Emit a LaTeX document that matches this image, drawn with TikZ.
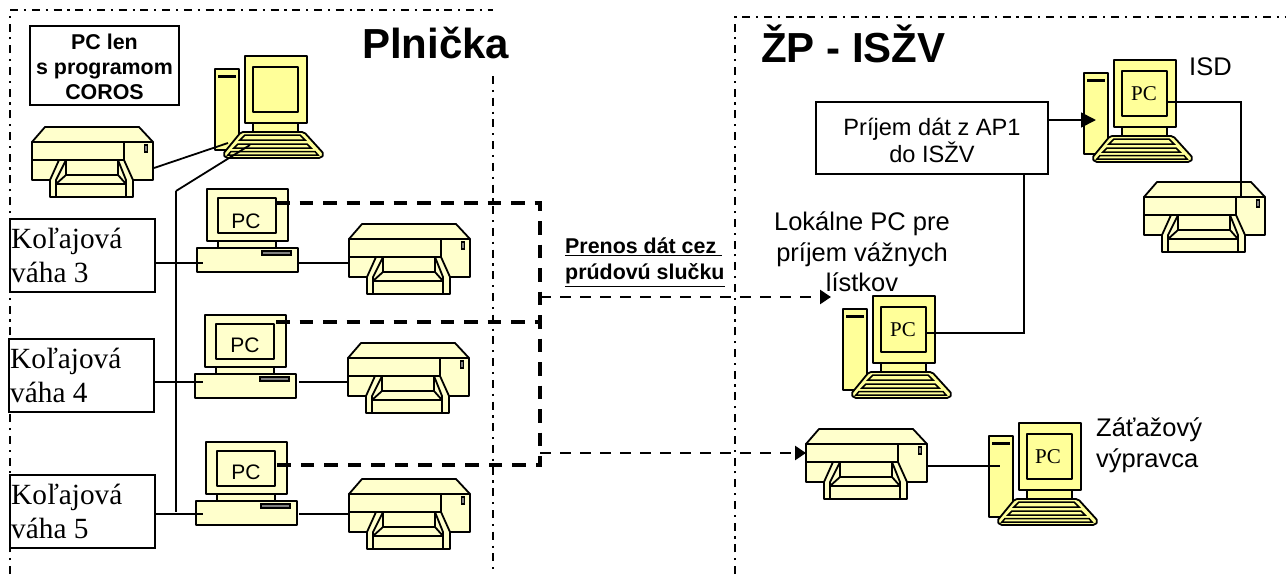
\documentclass[tikz,border=0pt]{standalone}
\usepackage{fontspec}
\setmainfont{Liberation Sans}
\newfontfamily\timesfont{Liberation Serif}
\usetikzlibrary{arrows.meta}
\definecolor{towerfill}{HTML}{FFFF99}
\definecolor{paperfill}{HTML}{FFFFCC}
\tikzset{
  part/.style={draw=black, line width=1.8pt, line join=round},
  wire/.style={draw=black, line width=1.8pt},
  frameline/.style={draw=black, line width=1.9pt, dash pattern=on 8pt off 5.8pt on 2.2pt off 5.7pt},
  dataline/.style={draw=black, line width=3.2pt, dash pattern=on 13.5pt off 10pt},
  datatip/.style={-{Triangle[length=11pt,width=14pt]}},
  infobox/.style={draw=black, line width=2pt, fill=white, inner sep=0pt, outer sep=0pt},
  scalebox/.style={infobox, minimum width=145pt, minimum height=73pt, anchor=north west},
  scaletext/.style={font=\timesfont\fontsize{29.3}{34}\selectfont, align=left, anchor=north west, inner sep=0pt},
  pctext/.style={font=\fontsize{21}{26}\selectfont, inner sep=0pt},
  pcserif/.style={font=\timesfont\fontsize{21}{24}\selectfont, inner sep=0pt},
  label/.style={font=\fontsize{25.5}{30.5}\selectfont, align=center, inner sep=0pt},
  title/.style={font=\bfseries\fontsize{42}{48}\selectfont, anchor=base west, inner sep=0pt},
  pics/tower/.style={code={
    \draw[part, fill=towerfill] (-30,13) rectangle (-6,94);
    \draw[line width=3pt] (-27,20) -- (-9,20);
    \draw[part, fill=towerfill] (8,67) rectangle (53,76);
    \draw[part, fill=towerfill] (0,0) rectangle (62,67);
    \draw[part, fill=towerfill] (8,11) rectangle (53,56);
    \draw[part, fill=towerfill, rounded corners=2pt] (-4,76) -- (59,76) -- (79,98) -- (76,102) -- (-19,102) -- (-22,98) -- cycle;
    \draw[line width=1.5pt] (0,79) -- (55,79) -- (60,84) -- (-5,84) -- cycle;
    \draw[line width=1.5pt] (-7,88) -- (62,88) -- (66,92) -- (-11,92) -- cycle;
    \draw[line width=1.5pt] (-14,95.5) -- (70,95.5) -- (73,99) -- (-17,99) -- cycle;
  }},
  pics/printer/.style={code={
    \draw[part, fill=paperfill] (0,0) -- (13,-15) -- (107,-15) -- (121,0) -- cycle;
    \draw[part, fill=paperfill] (18,38) -- (0,38) -- (0,0) -- (121,0) -- (121,38) -- (101,38);
    \draw[part] (92,0) -- (92,18) -- (0,18);
    \draw[part, fill=paperfill] (18,38) -- (18,55) -- (101,55) -- (101,38);
    \draw[part] (27,18) -- (18,38);
    \draw[part] (92,18) -- (101,38);
    \draw[part] (34,18) -- (24,38) -- (24,55);
    \draw[part] (86,18) -- (94,38) -- (94,55);
    \draw[part] (34,18) -- (34,33) -- (86,33) -- (86,18);
    \draw[part] (34,33) -- (24,42) -- (94,42) -- (86,33);
    \draw[line width=1.5pt, fill=gray] (112.5,3) rectangle (115.5,10);
  }},
  pics/desktop/.style={code={
    \draw[part, fill=paperfill] (11,52) rectangle (69,59);
    \draw[part, fill=paperfill] (0,0) rectangle (81,52);
    \draw[part, fill=paperfill] (11,9) rectangle (69,44);
    \draw[part, fill=paperfill] (-10,59) rectangle (91,83);
    \draw[line width=1.5pt, fill=gray] (55,62) rectangle (84,66);
  }},
}
\begin{document}
\begin{tikzpicture}[x=1pt, y=-1pt]
\useasboundingbox (0,0) rectangle (1286,574);

% frames
\draw[frameline] (10,574) -- (10,10) -- (493,10);
\draw[frameline] (493,76) -- (493,574);
\draw[frameline] (735,574) -- (735,17) -- (1286,17);

% titles
\node[title] (plnicka) at (362,58) {Plnička};
\node[title] (zpiszv) at (761,62) {ŽP - ISŽV};

% left side
\node[infobox, minimum width=149pt, minimum height=79pt] (coros) at (104.5,65.5) {};
\node[font=\bfseries\fontsize{21.4}{25}\selectfont, align=center, inner sep=0pt] (corostext) at (104.5,67) {PC len\\s programom\\COROS};
\node[scalebox] (scaleA) at (10,219) {};
\node[scaletext] (scaleAtext) at (11,228) {Koľajová\\váha 3};
\node[scalebox] (scaleB) at (9,339) {};
\node[scaletext] (scaleBtext) at (10,348) {Koľajová\\váha 4};
\node[scalebox] (scaleC) at (10,475) {};
\node[scaletext] (scaleCtext) at (11,484) {Koľajová\\váha 5};

\pic (pcTop) at (245,56) {tower};
\pic (printerTop) at (32,142) {printer};
\pic (deskA) at (207,189) {desktop};
\pic (printerA) at (349,239) {printer};
\pic (deskB) at (205,315) {desktop};
\pic (printerB) at (348,358) {printer};
\pic (deskC) at (206,442) {desktop};
\pic (printerC) at (349,494) {printer};
\node[pctext] (pcA) at (246,221) {PC};
\node[pctext] (pcB) at (245,345) {PC};
\node[pctext] (pcC) at (246,472) {PC};

% right side
\pic (pcIsd) at (1114,60) {tower};
\pic (printerIsd) at (1144,197) {printer};
\pic (pcLocal) at (873,296) {tower};
\pic (printerOut) at (806,444) {printer};
\pic (pcOut) at (1019,423) {tower};
\node[pcserif] (pcD) at (1144,94) {PC};
\node[pcserif] (pcE) at (903,330) {PC};
\node[pcserif] (pcF) at (1048,457) {PC};
\node[infobox, minimum width=232pt, minimum height=72pt] (receive) at (932,138) {};
\node[font=\fontsize{23.6}{27}\selectfont, align=center, inner sep=0pt] (receivetext) at (932,140) {Príjem dát z AP1\\do ISŽV};
\node[label, anchor=base west] (isd) at (1189,75) {ISD};
\node[label, anchor=north] (local) at (862,212) {Lokálne PC pre\\príjem vážnych\\lístkov};
\node[label, anchor=north west, align=left] (dispatch) at (1096,418) {Záťažový\\výpravca};
\node[font=\bfseries\fontsize{21.4}{26}\selectfont, align=left, anchor=north west, inner sep=0pt] (transfer) at (565,238) {\underline{Prenos dát cez }\\\underline{prúdovú slučku}};

% solid connectors
\coordinate (printerTopOut) at (154,168);
\coordinate (pcTopIn) at (228,143);
\coordinate (pcTopBus) at (250,145);
\coordinate (busTop) at (176,191);
\coordinate (busEnd) at (176,512);
\coordinate (deskAin) at (203,263);
\coordinate (deskBin) at (203,382);
\coordinate (deskCin) at (203,514);
\draw[wire] (printerTopOut) -- (pcTopIn);
\draw[wire] (busTop) -- (pcTopBus);
\draw[wire] (busTop) -- (busEnd);
\draw[wire] (scaleA.east |- deskAin) -- (deskAin);
\draw[wire] (scaleB.east |- deskBin) -- (deskBin);
\draw[wire] (scaleC.east |- deskCin) -- (deskCin);
\coordinate (printerAin) at (349,263);
\coordinate (printerBin) at (348,382);
\coordinate (printerCin) at (349,514);
\coordinate (deskAout) at (299,263);
\coordinate (deskBout) at (299,382);
\coordinate (deskCout) at (299,514);
\draw[wire] (deskAout) -- (printerAin);
\draw[wire] (deskBout) -- (printerBin);
\draw[wire] (deskCout) -- (printerCin);
\coordinate (isdPort) at (1167,102);
\coordinate (isdPrinterIn) at (1241,197);
\draw[wire] (isdPort) -| (isdPrinterIn);
\coordinate (localPort) at (927,333);
\coordinate (receiveOut) at (1024,174);
\draw[wire] (localPort) -| (receiveOut);
\coordinate (printerOutPort) at (927,466);
\coordinate (pcOutPort) at (1000,466);
\draw[wire] (printerOutPort) -- (pcOutPort);
\coordinate (receiveArrow) at (1048,120);
\coordinate (pcIsdIn) at (1096,120);
\draw[wire, -{Triangle[length=15pt,width=15pt]}] (receiveArrow) -- (pcIsdIn);

% data lines
\coordinate (screenA) at (276,203);
\coordinate (screenB) at (276,322);
\coordinate (screenC) at (276,465);
\coordinate (riserTop) at (540,203);
\coordinate (riserB) at (540,322);
\coordinate (riserEnd) at (540,465);
\coordinate (riserLocal) at (540,297);
\coordinate (riserOut) at (540,453);
\coordinate (localIn) at (831,297);
\coordinate (printerOutIn) at (806,453);
\draw[dataline] (screenA) -- (riserTop) -- (riserEnd) -- (screenC);
\draw[dataline] (screenB) -- (riserB);
\draw[dataline, datatip, line width=2.8pt, dash pattern=on 11pt off 9pt] (riserLocal) -- (localIn);
\draw[dataline, datatip, line width=2.8pt, dash pattern=on 11pt off 9pt] (riserOut) -- (printerOutIn);
\end{tikzpicture}
\end{document}
